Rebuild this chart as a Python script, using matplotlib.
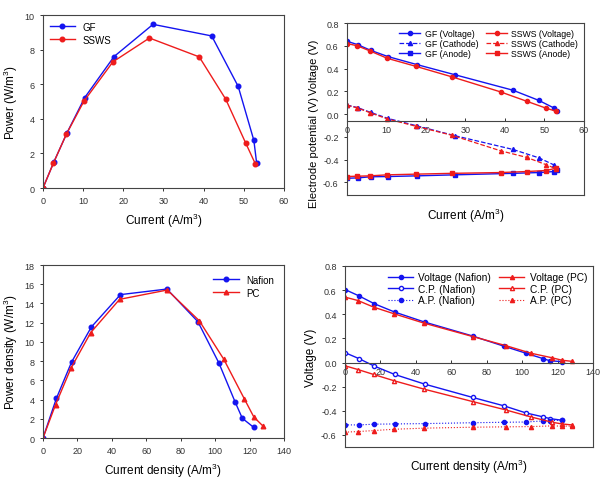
import matplotlib
matplotlib.use("Agg")
import matplotlib.pyplot as plt

plt.rcParams['font.family'] = ['Liberation Sans', 'DejaVu Sans']
plt.rcParams['mathtext.default'] = 'regular'

# ---- data: GF vs SSWS (top row)
gf_current = [0, 2.7, 6.0, 10.4, 17.7, 27.4, 42.0, 48.6, 52.5, 53.2]
gf_power = [0, 1.5, 3.2, 5.23, 7.6, 9.46, 8.79, 5.87, 2.75, 1.42]
ssws_current = [0, 2.6, 5.8, 10.2, 17.4, 26.5, 38.9, 45.5, 50.5, 52.9]
ssws_power = [0, 1.44, 3.1, 5.02, 7.29, 8.67, 7.58, 5.13, 2.58, 1.38]

gf_voltage = [0.64, 0.61, 0.56, 0.505, 0.435, 0.345, 0.21, 0.12, 0.052, 0.027]
ssws_voltage = [0.62, 0.60, 0.555, 0.49, 0.42, 0.328, 0.195, 0.113, 0.051, 0.026]
gf_cathode = [0.08, 0.057, 0.015, -0.038, -0.103, -0.19, -0.31, -0.384, -0.448, -0.47]
ssws_cathode = [0.078, 0.055, 0.013, -0.042, -0.106, -0.185, -0.322, -0.38, -0.445, -0.48]
gf_anode = [-0.563, -0.56, -0.55, -0.548, -0.542, -0.533, -0.52, -0.513, -0.504, -0.49]
ssws_anode = [-0.548, -0.545, -0.542, -0.533, -0.527, -0.52, -0.513, -0.504, -0.495, -0.475]

# ---- data: Nafion vs PC (bottom row)
nafion_current = [0, 7.8, 16.6, 28.1, 45.0, 72.0, 90.0, 102.2, 111.7, 115.8, 122.4]
nafion_power = [0, 4.13, 7.9, 11.55, 14.92, 15.5, 12.1, 7.8, 3.71, 2.05, 1.11]
pc_current = [0, 7.3, 16.2, 27.7, 44.5, 72.2, 90.8, 105.0, 117.0, 122.5, 128.0]
pc_power = [0, 3.47, 7.25, 10.96, 14.43, 15.4, 12.2, 8.2, 4.06, 2.18, 1.21]

nafion_voltage = [0.605, 0.553, 0.487, 0.418, 0.335, 0.22, 0.134, 0.077, 0.033, 0.014, 0.008]
pc_voltage = [0.542, 0.514, 0.459, 0.404, 0.327, 0.215, 0.14, 0.077, 0.039, 0.019, 0.01]
nafion_cp = [0.082, 0.033, -0.030, -0.099, -0.179, -0.289, -0.36, -0.418, -0.45, -0.465, -0.478]
pc_cp = [-0.027, -0.058, -0.099, -0.151, -0.220, -0.324, -0.393, -0.451, -0.495, -0.509, -0.517]
nafion_ap = [-0.517, -0.517, -0.511, -0.509, -0.506, -0.499, -0.495, -0.493, -0.484, -0.484, -0.476]
pc_ap = [-0.577, -0.572, -0.564, -0.553, -0.544, -0.536, -0.533, -0.531, -0.525, -0.527, -0.527]

blue = '#1414f0'
red = '#ee1c1c'
tick_fs = 6.5
label_fs = 8.5
leg_fs = 7

fig = plt.figure(figsize=(6.08, 4.85), dpi=100)


def style(ax):
    for s in ax.spines.values():
        s.set_color('#444444')
        s.set_linewidth(0.8)
    ax.tick_params(labelsize=tick_fs, colors='#333333', length=2.5, width=0.7)


# top-left: power
ax1 = fig.add_axes([0.0707, 0.6103, 0.3964, 0.3567])
ax1.plot(gf_current, gf_power, '-o', color=blue, ms=3.3, lw=1, label='GF')
ax1.plot(ssws_current, ssws_power, '-o', color=red, ms=3.3, lw=1, label='SSWS')
ax1.set_xlim(0, 60)
ax1.set_ylim(0, 10)
ax1.set_xticks(range(0, 61, 10))
ax1.set_yticks(range(0, 11, 2))
ax1.set_xlabel('Current (A/m$^3$)', fontsize=label_fs, labelpad=4)
ax1.set_ylabel('Power (W/m$^3$)', fontsize=label_fs, labelpad=3)
ax1.legend(loc='upper left', fontsize=leg_fs, frameon=False, handlelength=2.6,
           borderaxespad=0.3, labelspacing=0.3)
style(ax1)

# top-right: voltage / electrode potential
ax2 = fig.add_axes([0.5707, 0.5959, 0.3898, 0.3546])
ax2.plot(gf_current, gf_voltage, '-o', color=blue, ms=3, lw=1, label='GF (Voltage)')
ax2.plot(gf_current, gf_cathode, '--^', color=blue, ms=3, lw=0.9, label='GF (Cathode)')
ax2.plot(gf_current, gf_anode, '-s', color=blue, ms=3, lw=1, label='GF (Anode)')
ax2.plot(ssws_current, ssws_voltage, '-o', color=red, ms=3, lw=1, label='SSWS (Voltage)')
ax2.plot(ssws_current, ssws_cathode, '--^', color=red, ms=3, lw=0.9, label='SSWS (Cathode)')
ax2.plot(ssws_current, ssws_anode, '-s', color=red, ms=3, lw=1, label='SSWS (Anode)')
ax2.set_xlim(0, 60)
ax2.set_ylim(-0.71, 0.8)
ax2.set_xticks(range(0, 61, 10))
ax2.set_yticks([-0.6, -0.4, -0.2, 0.0, 0.2, 0.4, 0.6, 0.8])
ax2.set_yticklabels(['-0.6', '-0.4', '-0.2', '0.0', '0.2', '0.4', '0.6', '0.8'])
ax2.spines['bottom'].set_position(('data', -0.06))
ax2.plot([0, 1], [0, 0], transform=ax2.transAxes, color='#444444', lw=0.8, clip_on=False)
ax2.tick_params(axis='x', direction='in', pad=3)
ax2.legend(loc='upper right', ncol=2, fontsize=6.3, frameon=False, handlelength=2.4,
           borderaxespad=0.25, labelspacing=0.15, columnspacing=0.9, handletextpad=0.5)
ax2.text(0.5, -0.065, 'Current (A/m$^3$)', transform=ax2.transAxes, ha='center', va='top',
         fontsize=label_fs)
fig.text(0.516, 0.862, 'Voltage (V)', rotation=90, ha='center', va='center', fontsize=8)
fig.text(0.516, 0.686, 'Electrode potential (V)', rotation=90, ha='center', va='center',
         fontsize=8)
style(ax2)

# bottom-left: power density
ax3 = fig.add_axes([0.0707, 0.0948, 0.3964, 0.3567])
ax3.plot(nafion_current, nafion_power, '-o', color=blue, ms=3.3, lw=1, label='Nafion')
ax3.plot(pc_current, pc_power, '-^', color=red, ms=3.3, lw=1, label='PC')
ax3.set_xlim(0, 140)
ax3.set_ylim(0, 18)
ax3.set_xticks(range(0, 141, 20))
ax3.set_yticks(range(0, 19, 2))
ax3.set_xlabel('Current density (A/m$^3$)', fontsize=label_fs, labelpad=4)
ax3.set_ylabel('Power density (W/m$^3$)', fontsize=label_fs, labelpad=3)
ax3.legend(loc='upper right', fontsize=leg_fs, frameon=False, handlelength=2.6,
           borderaxespad=0.6, labelspacing=0.3)
style(ax3)

# bottom-right: voltage / potentials
ax4 = fig.add_axes([0.5674, 0.0763, 0.4079, 0.3732])
ax4.plot(nafion_current, nafion_voltage, '-o', color=blue, ms=3, lw=1, label='Voltage (Nafion)')
ax4.plot(nafion_current, nafion_cp, '-o', color=blue, mfc='white', ms=3, lw=1, label='C.P. (Nafion)')
ax4.plot(nafion_current, nafion_ap, ':o', color=blue, ms=3, lw=0.8, label='A.P. (Nafion)')
ax4.plot(pc_current, pc_voltage, '-^', color=red, ms=3, lw=1, label='Voltage (PC)')
ax4.plot(pc_current, pc_cp, '-^', color=red, mfc='white', ms=3, lw=1, label='C.P. (PC)')
ax4.plot(pc_current, pc_ap, ':^', color=red, ms=3, lw=0.8, label='A.P. (PC)')
ax4.set_xlim(0, 140)
ax4.set_ylim(-0.7, 0.8)
ax4.set_xticks(range(0, 141, 20))
ax4.set_yticks([-0.6, -0.4, -0.2, 0.0, 0.2, 0.4, 0.6, 0.8])
ax4.set_yticklabels(['-0.6', '-0.4', '-0.2', '0.0', '0.2', '0.4', '0.6', '0.8'])
ax4.spines['bottom'].set_position(('data', 0.0))
ax4.plot([0, 1], [0, 0], transform=ax4.transAxes, color='#444444', lw=0.8, clip_on=False)
ax4.tick_params(axis='x', direction='in', pad=3)
ax4.legend(loc='upper right', ncol=2, fontsize=leg_fs + 0.3, frameon=False, handlelength=2.5,
           borderaxespad=0.2, labelspacing=0.15, columnspacing=0.8, handletextpad=0.5)
ax4.text(0.5, -0.055, 'Current density (A/m$^3$)', transform=ax4.transAxes, ha='center',
         va='top', fontsize=label_fs)
ax4.set_ylabel('Voltage (V)', fontsize=label_fs, labelpad=3)
style(ax4)

fig.savefig('out.png', dpi=100)
